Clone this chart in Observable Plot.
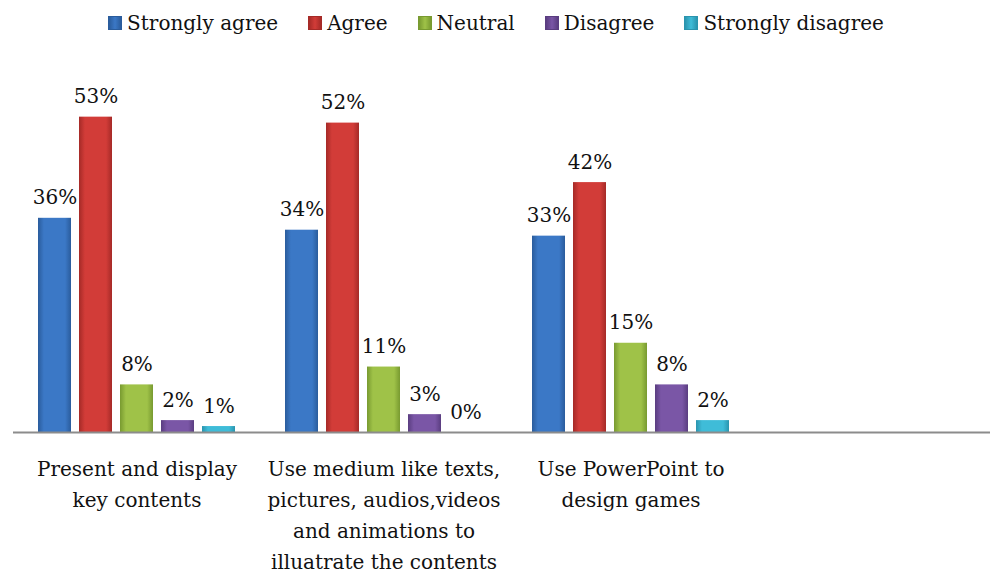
<!DOCTYPE html>
<html><head><meta charset="utf-8">
<script src="https://cdn.jsdelivr.net/npm/d3@7"></script>
<script src="https://cdn.jsdelivr.net/npm/@observablehq/plot@0.6"></script>
<style>
html,body{margin:0;padding:0;background:#fff;overflow:hidden;width:990px;height:575px}
#legend{display:flex;justify-content:center;align-items:center;height:45px;padding-left:32px;box-sizing:border-box;font-family:"DejaVu Serif",serif;font-size:20px;color:#111}
.item{display:flex;align-items:center;margin-right:30px}
.sw{width:14px;height:14px;margin-right:5px;box-sizing:border-box}
</style></head>
<body>
<div id="legend"></div>
<div id="chart"></div>
<script>
const categories = ["Present and display\nkey contents", "Use medium like texts,\npictures, audios,videos\nand animations to\nilluatrate the contents", "Use PowerPoint to\ndesign games", ""];
const responses = ["Strongly agree", "Agree", "Neutral", "Disagree", "Strongly disagree"];
const stronglyAgree = [36, 34, 33];
const agree = [53, 52, 42];
const neutral = [8, 11, 15];
const disagree = [2, 3, 8];
const stronglyDisagree = [1, 0, 2];
const colors = ["#3b78c6", "#d23c38", "#9fc248", "#7a56a6", "#3fbcd8"];
const darks = ["#2a5c9c", "#a52a27", "#789a30", "#5a3d80", "#2a94ae"];

const series = [stronglyAgree, agree, neutral, disagree, stronglyDisagree];
const data = [];
series.forEach((vals, s) => vals.forEach((v, c) => data.push({cat: categories[c], resp: responses[s], value: v})));

// legend
const lg = document.getElementById("legend");
responses.forEach((r, i) => {
  const it = document.createElement("div"); it.className = "item";
  const sw = document.createElement("div"); sw.className = "sw";
  sw.style.background = `linear-gradient(to right, ${darks[i]}, ${colors[i]} 50%, ${darks[i]})`;
  sw.style.border = `1px solid ${darks[i]}`;
  const t = document.createElement("span"); t.textContent = r;
  it.appendChild(sw); it.appendChild(t); lg.appendChild(it);
});

const font = '"DejaVu Serif", serif';
const chart = Plot.plot({
  width: 990, height: 530,
  marginLeft: 12, marginRight: -12, marginTop: 30, marginBottom: 143,
  style: {fontFamily: font, fontSize: "20px", color: "#111", background: "transparent", overflow: "visible"},
  fx: {domain: categories, padding: 0, axis: null},
  x: {domain: responses, paddingInner: 0.2, paddingOuter: 0.58, axis: null},
  y: {domain: [0, 60], axis: null},
  color: {domain: responses, range: responses.map((r, i) => `url(#g${i})`)},
  marks: [
    Plot.barY(data, {fx: "cat", x: "resp", y: "value", fill: "resp"}),
    Plot.ruleY([0], {stroke: "#8c8c8c", strokeWidth: 2}),
    Plot.text(data, {fx: "cat", x: "resp", y: "value", text: d => d.value + "%", lineAnchor: "bottom", dy: -14, fill: "#111", fontSize: 20, fontFamily: font}),
    Plot.text(categories, {fx: d => d, frameAnchor: "bottom", text: d => d, lineAnchor: "top", dy: 21, lineHeight: 1.55, fill: "#111", fontSize: 20, fontFamily: font})
  ]
});
const defs = d3.select(chart).insert("defs", ":first-child");
colors.forEach((c, i) => {
  const g = defs.append("linearGradient").attr("id", "g" + i).attr("x1", 0).attr("x2", 1).attr("y1", 0).attr("y2", 0);
  g.append("stop").attr("offset", "0%").attr("stop-color", darks[i]);
  g.append("stop").attr("offset", "18%").attr("stop-color", c);
  g.append("stop").attr("offset", "82%").attr("stop-color", c);
  g.append("stop").attr("offset", "100%").attr("stop-color", darks[i]);
});
document.getElementById("chart").appendChild(chart);
</script>
</body></html>
